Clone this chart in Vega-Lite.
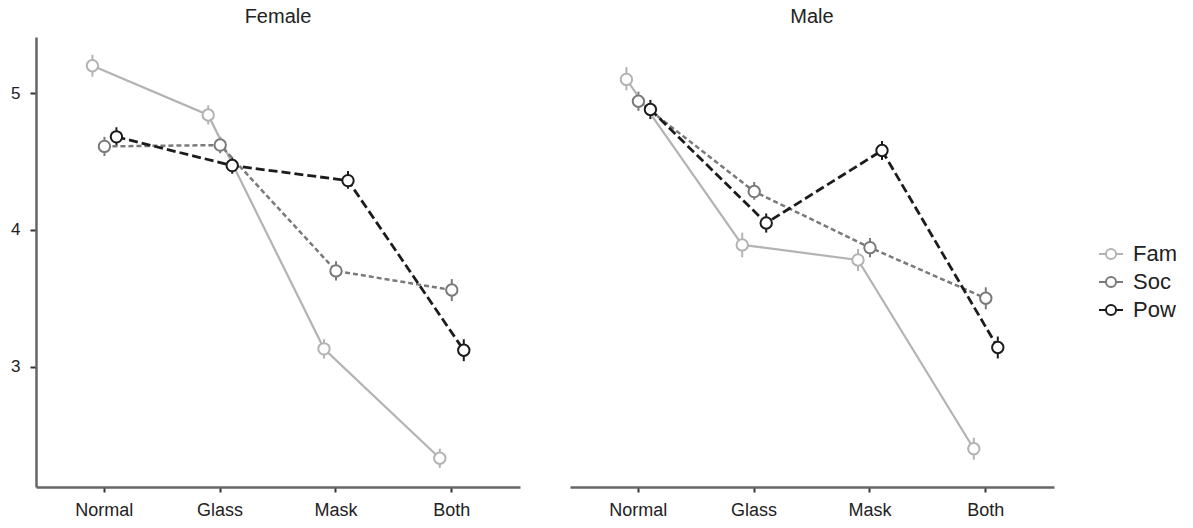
{
  "$schema": "https://vega.github.io/schema/vega-lite/v6.json",
  "padding": {"left": 10, "top": 7, "right": 5, "bottom": 5},
  "config": {
    "view": {"stroke": null},
    "font": "Liberation Sans"
  },
  "data": {"values": [
    {"sex": "Female", "cond": "Normal", "group": "Fam", "mean": 5.20, "lo": 5.12, "hi": 5.28},
    {"sex": "Female", "cond": "Glass", "group": "Fam", "mean": 4.84, "lo": 4.77, "hi": 4.91},
    {"sex": "Female", "cond": "Mask", "group": "Fam", "mean": 3.13, "lo": 3.06, "hi": 3.20},
    {"sex": "Female", "cond": "Both", "group": "Fam", "mean": 2.33, "lo": 2.26, "hi": 2.40},
    {"sex": "Female", "cond": "Normal", "group": "Soc", "mean": 4.61, "lo": 4.54, "hi": 4.68},
    {"sex": "Female", "cond": "Glass", "group": "Soc", "mean": 4.62, "lo": 4.56, "hi": 4.68},
    {"sex": "Female", "cond": "Mask", "group": "Soc", "mean": 3.70, "lo": 3.63, "hi": 3.77},
    {"sex": "Female", "cond": "Both", "group": "Soc", "mean": 3.56, "lo": 3.48, "hi": 3.64},
    {"sex": "Female", "cond": "Normal", "group": "Pow", "mean": 4.68, "lo": 4.61, "hi": 4.75},
    {"sex": "Female", "cond": "Glass", "group": "Pow", "mean": 4.47, "lo": 4.41, "hi": 4.53},
    {"sex": "Female", "cond": "Mask", "group": "Pow", "mean": 4.36, "lo": 4.30, "hi": 4.43},
    {"sex": "Female", "cond": "Both", "group": "Pow", "mean": 3.12, "lo": 3.04, "hi": 3.20},
    {"sex": "Male", "cond": "Normal", "group": "Fam", "mean": 5.10, "lo": 5.02, "hi": 5.19},
    {"sex": "Male", "cond": "Glass", "group": "Fam", "mean": 3.89, "lo": 3.80, "hi": 3.98},
    {"sex": "Male", "cond": "Mask", "group": "Fam", "mean": 3.78, "lo": 3.70, "hi": 3.86},
    {"sex": "Male", "cond": "Both", "group": "Fam", "mean": 2.40, "lo": 2.32, "hi": 2.48},
    {"sex": "Male", "cond": "Normal", "group": "Soc", "mean": 4.94, "lo": 4.87, "hi": 5.01},
    {"sex": "Male", "cond": "Glass", "group": "Soc", "mean": 4.28, "lo": 4.22, "hi": 4.35},
    {"sex": "Male", "cond": "Mask", "group": "Soc", "mean": 3.87, "lo": 3.80, "hi": 3.94},
    {"sex": "Male", "cond": "Both", "group": "Soc", "mean": 3.50, "lo": 3.42, "hi": 3.58},
    {"sex": "Male", "cond": "Normal", "group": "Pow", "mean": 4.88, "lo": 4.81, "hi": 4.95},
    {"sex": "Male", "cond": "Glass", "group": "Pow", "mean": 4.05, "lo": 3.98, "hi": 4.12},
    {"sex": "Male", "cond": "Mask", "group": "Pow", "mean": 4.58, "lo": 4.51, "hi": 4.65},
    {"sex": "Male", "cond": "Both", "group": "Pow", "mean": 3.14, "lo": 3.06, "hi": 3.22}
  ]},
  "facet": {
    "column": {
      "field": "sex", "type": "nominal", "sort": ["Female", "Male"], "title": null,
      "header": {"labelFontSize": 20, "labelFont": "Liberation Sans", "labelColor": "#222", "labelPadding": 10}
    }
  },
  "spacing": 50,
  "spec": {
    "width": 484,
    "height": 450,
    "encoding": {
      "x": {
        "field": "cond", "type": "nominal", "sort": ["Normal", "Glass", "Mask", "Both"],
        "scale": {"paddingInner": 0, "paddingOuter": 0.09},
        "axis": {"title": null, "labelAngle": 0, "labelFontSize": 18, "labelColor": "#222", "labelPadding": 9, "tickSize": 5, "tickWidth": 2, "tickColor": "#333", "domainColor": "#666", "domainWidth": 2.5, "grid": false}
      },
      "xOffset": {
        "field": "group", "type": "nominal", "sort": ["Fam", "Soc", "Pow"],
        "scale": {"type": "point", "range": [46, 70], "padding": 0}
      },
      "color": {"field": "group", "type": "nominal", "sort": ["Fam", "Soc", "Pow"], "scale": {"domain": ["Fam", "Soc", "Pow"], "range": ["#b3b3b3", "#7a7a7a", "#1c1c1c"]},
        "legend": {"title": null, "orient": "none", "legendX": 1062, "legendY": 204, "labelFontSize": 22, "labelColor": "#222", "labelOffset": 9, "rowPadding": 4, "padding": 0,
          "symbolType": "M -1 0 L -0.42 0 M 0.42 0 L 1 0 M -0.42 0 A 0.42 0.42 0 1 1 0.42 0 A 0.42 0.42 0 1 1 -0.42 0",
          "symbolSize": 576, "symbolStrokeWidth": 2, "symbolFillColor": "white"}}
    },
    "layer": [
      {
        "mark": {"type": "rule", "strokeWidth": 2},
        "encoding": {
          "y": {"field": "lo", "type": "quantitative", "scale": {"domain": [2.12, 5.41], "nice": false, "zero": false},
            "axis": {"title": null, "values": [3, 4, 5], "format": "d", "labelFontSize": 17, "labelColor": "#222", "labelPadding": 10, "tickSize": 6, "tickWidth": 2, "tickColor": "#333", "domainColor": "#666", "domainWidth": 2.5, "grid": false}},
          "y2": {"field": "hi"}
        }
      },
      {
        "transform": [{"filter": "datum.group === 'Fam'"}],
        "mark": {"type": "line", "strokeWidth": 2.2},
        "encoding": {"y": {"field": "mean", "type": "quantitative"}}
      },
      {
        "transform": [{"filter": "datum.group === 'Soc'"}],
        "mark": {"type": "line", "strokeWidth": 2.5, "strokeDash": [5, 3]},
        "encoding": {"y": {"field": "mean", "type": "quantitative"}}
      },
      {
        "transform": [{"filter": "datum.group === 'Pow'"}],
        "mark": {"type": "line", "strokeWidth": 2.8, "strokeDash": [9, 4]},
        "encoding": {"y": {"field": "mean", "type": "quantitative"}}
      },
      {
        "mark": {"type": "point", "filled": false, "fill": "white", "size": 130, "strokeWidth": 2, "opacity": 1},
        "encoding": {"y": {"field": "mean", "type": "quantitative"}}
      }
    ]
  }
}
